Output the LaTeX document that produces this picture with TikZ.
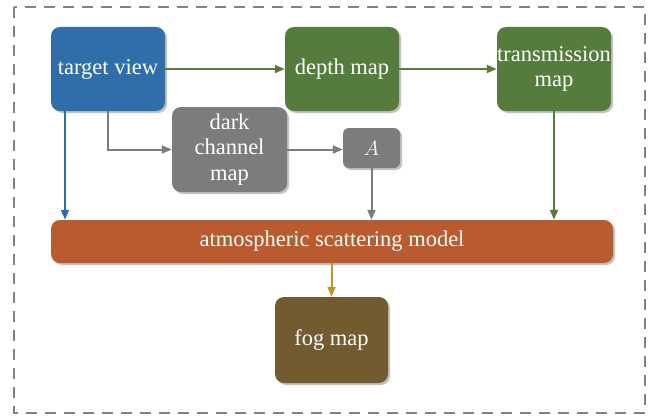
\documentclass[tikz,border=0pt]{standalone}
\usepackage{fontspec}
\setmainfont{Liberation Serif}
\usetikzlibrary{shadows,arrows.meta}
\definecolor{cblue}{HTML}{2F6EAA}
\definecolor{cgreen}{HTML}{557C3C}
\definecolor{cgray}{HTML}{7B7C7E}
\definecolor{corange}{HTML}{B95B2E}
\definecolor{cbrown}{HTML}{715B2F}
\definecolor{cgold}{HTML}{C2922C}
\definecolor{cborder}{HTML}{808285}
\begin{document}
\begin{tikzpicture}[x=1pt,y=-1pt,
  box/.style={rounded corners=9pt, draw=none, text=white, align=center,
    font=\fontsize{22.5}{25.5}\selectfont, inner sep=0pt,
    drop shadow={shadow xshift=2pt, shadow yshift=-2pt, fill=black!40, opacity=0.6}},
  conn/.style={line width=2pt, -{Triangle[length=10pt,width=8pt]}}]
\useasboundingbox (0,0) rectangle (656,420);
\draw[cborder, line width=1.6pt, dash pattern=on 11pt off 8pt] (14,7) rectangle (645,413);
\node[box, fill=cblue, minimum width=114pt, minimum height=84pt] (tv) at (108,69) {target view};
\node[box, fill=cgreen, minimum width=114pt, minimum height=84pt] (dm) at (342,69) {depth map};
\node[box, fill=cgreen, minimum width=114pt, minimum height=84pt] (tm) at (554,69) {transmission\\map};
\node[box, fill=cgray, minimum width=115pt, minimum height=85pt] (dc) at (229.5,149.5) {dark\\channel\\map};
\node[box, fill=cgray, minimum width=57pt, minimum height=40pt, rounded corners=6pt] (A) at (371.5,148) {$A$};
\node[box, fill=corange, minimum width=562pt, minimum height=43pt] (asm) at (332,241.5) {atmospheric scattering model};
\node[box, fill=cbrown, minimum width=113pt, minimum height=86pt] (fog) at (331.5,340) {fog map};
\coordinate (tvb1) at (65,111);
\coordinate (tvb2) at (108,111);
\draw[conn, cgreen] (tv.east) -- (dm.west);
\draw[conn, cgreen] (dm.east) -- (tm.west);
\draw[conn, cblue] (tvb1) -- (tvb1 |- asm.north);
\draw[conn, cgray] (tvb2) |- (dc.west);
\draw[conn, cgray] (dc.east) -- (dc.east -| A.west);
\draw[conn, cgray] (A.south) -- (A.south |- asm.north);
\draw[conn, cgreen] (tm.south) -- (tm.south |- asm.north);
\draw[conn, cgold] (asm.south -| fog.north) -- (fog.north);
\end{tikzpicture}
\end{document}
